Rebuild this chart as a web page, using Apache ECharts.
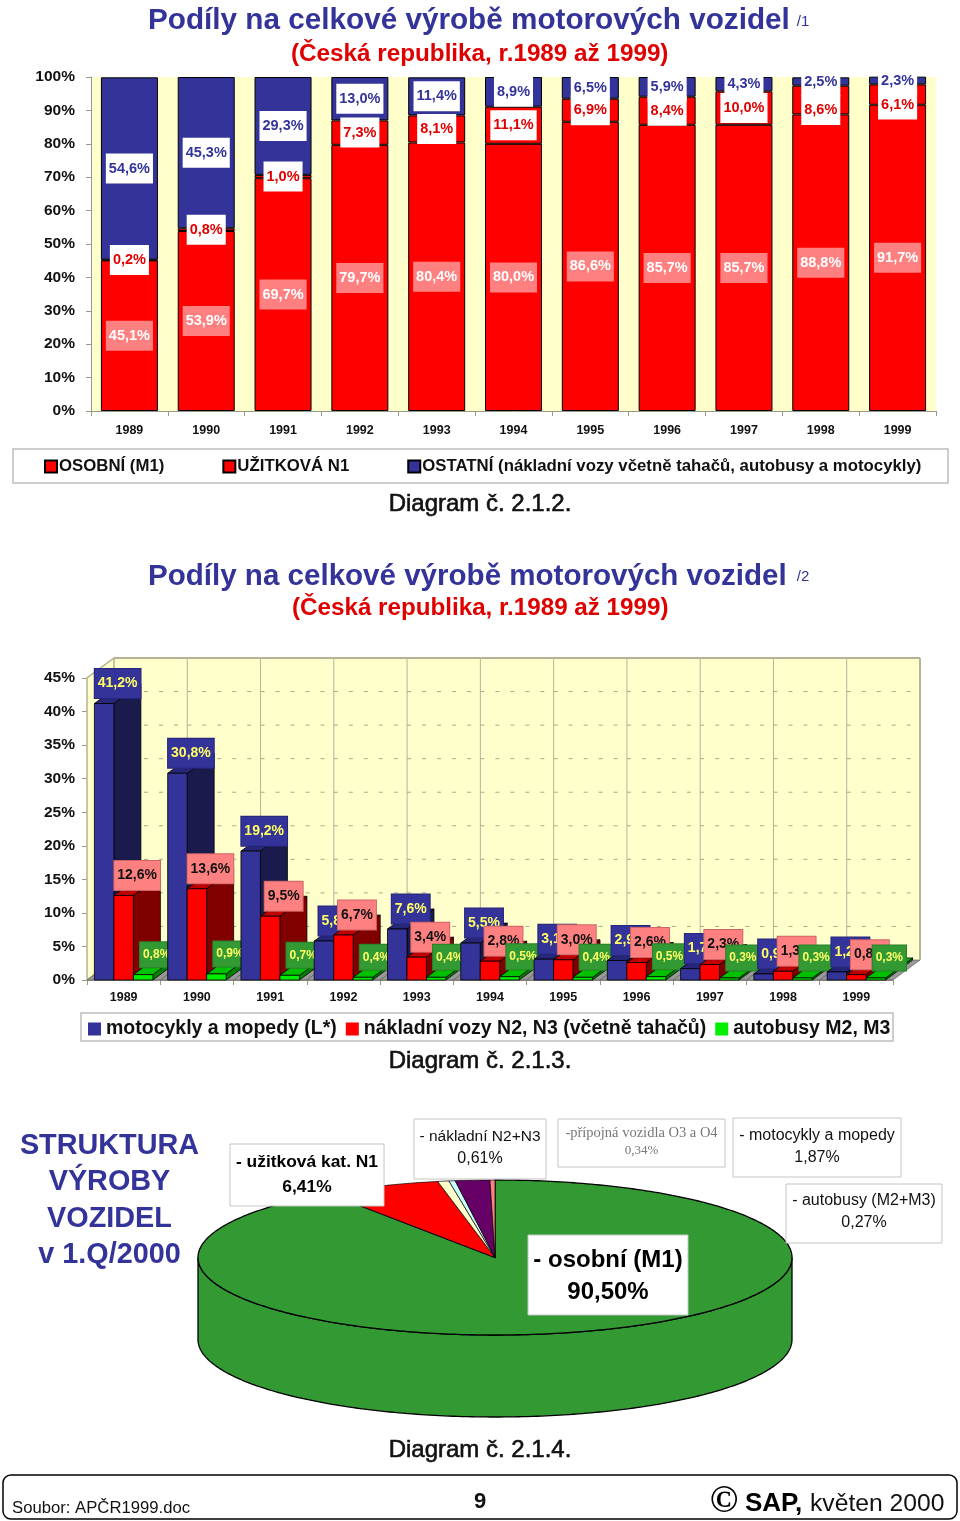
<!DOCTYPE html>
<html lang="cs"><head><meta charset="utf-8"><title>Podíly na celkové výrobě motorových vozidel</title>
<style>html,body{margin:0;padding:0;background:#fff}#c{width:960px;height:1521px}</style>
<script src="https://cdn.jsdelivr.net/npm/echarts@6/dist/echarts.min.js"></script></head>
<body><div id="c"></div><script>
const years = ['1989','1990','1991','1992','1993','1994','1995','1996','1997','1998','1999'];
const osobni = [45.1,53.9,69.7,79.7,80.4,80.0,86.6,85.7,85.7,88.8,91.7];
const uzitkova = [0.2,0.8,1.0,7.3,8.1,11.1,6.9,8.4,10.0,8.6,6.1];
const ostatni = [54.6,45.3,29.3,13.0,11.4,8.9,6.5,5.9,4.3,2.5,2.3];
const motocykly = [41.2,30.8,19.2,5.8,7.6,5.5,3.1,2.9,1.7,0.9,1.2];
const nakladni = [12.6,13.6,9.5,6.7,3.4,2.8,3.0,2.6,2.3,1.3,0.8];
const autobusy = [0.8,0.9,0.7,0.4,0.4,0.5,0.4,0.5,0.3,0.3,0.3];
const pieNames = ['- osobní (M1)','- užitková kat. N1','- nákladní N2+N3','-přípojná vozidla O3 a O4','- motocykly a mopedy','- autobusy (M2+M3)'];
const pieValues = [90.50,6.41,0.61,0.34,1.87,0.27];

const F = '"Liberation Sans", Arial, sans-serif';
const NAVY = '#333399', RED = '#FF0000', YEL = '#FFFFCC';
const pct = (v,d) => v.toFixed(d).replace('.',',') + '%';

/* ---------- chart 1 stacked bars ---------- */
function stackSeries(name, values, color, lbl, shifted){
  return {
    type:'bar', name, stack:'a', xAxisIndex:0, yAxisIndex:0, barWidth:57,
    itemStyle:{color, borderColor:'#000', borderWidth:1},
    data: values.map((v,i)=>{
      const d = {value:v};
      if (shifted && shifted.includes(i)) d.label = {offset:[0,10]};
      return d;
    }),
    label:{show:true, position:'inside', formatter:p=>pct(p.value,1),
      fontFamily:F, fontSize:14.5, fontWeight:'bold', padding:[8,3,7,3], ...lbl}
  };
}

/* ---------- chart 2 pseudo-3D columns ---------- */
const DX = 27, DY = 20;
function bar3d(name, values, k, c){
  return {
    type:'custom', name, xAxisIndex:1, yAxisIndex:1, clip:false,
    itemStyle:{color:c.front, borderColor:NAVY},
    encode:{x:0,y:1},
    data: values.map((v,i)=>[i,v]),
    renderItem(params, api){
      const i = api.value(0), v = api.value(1);
      const top = api.coord([i,v]), base = api.coord([i,0]);
      const band = api.size([1,0])[0], w = band*0.266;
      const x0 = top[0] - 1.5*w + k*w, x1 = x0 + w, yT = top[1], yB = base[1];
      const z = 10 + i*10 + k*3;
      const line = {stroke:'#000', lineWidth:0.8};
      return {type:'group', children:[
        {type:'polygon', z2:z, shape:{points:[[x1,yB],[x1+DX,yB-DY],[x1+DX,yT-DY],[x1,yT]]}, style:{fill:c.side, ...line}},
        {type:'polygon', z2:z, shape:{points:[[x0,yT],[x1,yT],[x1+DX,yT-DY],[x0+DX,yT-DY]]}, style:{fill:c.top, ...line}},
        {type:'rect', z2:z, shape:{x:x0,y:yT,width:w,height:yB-yT}, style:{fill:c.front, ...line}},
        {type:'text', z2:z+1, style:{text:pct(v,1), x:(x0+x1)/2+DX/2, y:yT-DY, align:'center', verticalAlign:'middle',
          font:`bold ${c.fs}px ${F}`, fill:c.fg, backgroundColor:c.bg, borderColor:c.bd, borderWidth:1, padding:c.pad}}
      ]};
    }
  };
}
const backdrop = {
  type:'custom', name:'stěny', xAxisIndex:1, yAxisIndex:1, clip:false, silent:true,
  encode:{x:0,y:1}, data: years.map((y,i)=>[i,0]),
  renderItem(params, api){
    const i = api.value(0);
    const o = api.coord([i,0]), t = api.coord([i,45]), band = api.size([1,0])[0];
    const x0 = o[0]-band/2, x1 = o[0]+band/2, b = o[1], h = t[1];
    const kids = [
      {type:'rect', z2:-9, shape:{x:x0+DX,y:h-DY,width:band,height:b-h}, style:{fill:YEL}},
      {type:'polygon', z2:-7, shape:{points:[[x0,b],[x1,b],[x1+DX,b-DY],[x0+DX,b-DY]]}, style:{fill:'#999999', stroke:'#555', lineWidth:0.6}},
      {type:'line', z2:-6, shape:{x1:x0+DX,y1:h-DY,x2:x1+DX,y2:h-DY}, style:{stroke:'#B5B394', lineWidth:2}},
    ];
    if (i>0) kids.push({type:'line', z2:-8, shape:{x1:x0+DX,y1:b-DY,x2:x0+DX,y2:h-DY}, style:{stroke:'#B5B394', lineWidth:1}});
    if (i===0) kids.push(
      {type:'polygon', z2:-8, shape:{points:[[x0,b],[x0+DX,b-DY],[x0+DX,h-DY],[x0,h]]}, style:{fill:YEL, stroke:'#B5B394', lineWidth:1.5}});
    if (i===years.length-1) kids.push({type:'line', z2:-6, shape:{x1:x1+DX,y1:b-DY,x2:x1+DX,y2:h-DY}, style:{stroke:'#B5B394', lineWidth:2}});
    for (let t5=5; t5<=40; t5+=5){
      const y = api.coord([i,t5])[1]-DY;
      kids.push({type:'line', z2:-8, shape:{x1:x0+DX,y1:y,x2:x1+DX,y2:y}, style:{stroke:'#A8A888', lineWidth:1, lineDash:[4,11]}});
    }
    return {type:'group', children:kids};
  }
};

/* ---------- elliptical 3D pie ---------- */
const pieColors = ['#339933','#FF0000','#FFFFCC','#CCFFFF','#660066','#FF8080'];
const SIDE = 2*82/155;
const piePoint = f => [Math.sin(2*Math.PI*f), Math.cos(2*Math.PI*f)];
const pieSeries = {
  type:'custom', name:'struktura', xAxisIndex:2, yAxisIndex:2, clip:false, silent:true,
  data: pieValues.map((v,i)=>[i,v]),
  renderItem(params, api){
    const i = api.value(0), v = api.value(1);
    const total = pieValues.reduce((a,b)=>a+b,0);
    const start = pieValues.slice(0,i).reduce((a,b)=>a+b,0)/total, end = start + v/total;
    const kids = [];
    const a = Math.max(start,0.25), b = Math.min(end,0.75);
    if (b>a){
      const up=[], low=[];
      for (let s=0;s<=200;s++){
        const p = piePoint(a+(b-a)*s/200);
        up.push(api.coord(p)); low.unshift(api.coord([p[0],p[1]-SIDE]));
      }
      kids.push({type:'polygon', z2:1, shape:{points:up.concat(low)}, style:{fill:pieColors[i], stroke:'#000', lineWidth:1.3}});
    }
    const pts = [api.coord([0,0])];
    const n = Math.max(4, Math.ceil((end-start)*400));
    for (let s=0;s<=n;s++) pts.push(api.coord(piePoint(start+(end-start)*s/n)));
    kids.push({type:'polygon', z2:2+i, shape:{points:pts}, style:{fill:pieColors[i], stroke:'#000', lineWidth:i===0?1.3:0.7}});
    return {type:'group', children:kids};
  }
};

/* ---------- text furniture ---------- */
const pieBoxes = [
  {i:0,x:528,y:1235,w:160,h:80,font:`bold 24px ${F}`,font2:`bold 24px ${F}`,fill:'#000',l1:1260,l2:1292},
  {i:1,x:230,y:1144,w:154,h:62,font:`bold 17.4px ${F}`,font2:`bold 17.4px ${F}`,fill:'#000',l1:1162,l2:1187},
  {i:2,x:414,y:1119,w:132,h:60,font:`15.5px ${F}`,font2:`16px ${F}`,fill:'#111',l1:1137,l2:1159},
  {i:3,x:558,y:1119,w:167,h:48,font:`14.5px "Liberation Serif", serif`,font2:`13px "Liberation Serif", serif`,fill:'#777',l1:1133,l2:1151},
  {i:4,x:733,y:1118,w:168,h:59,font:`16px ${F}`,font2:`16px ${F}`,fill:'#111',l1:1136,l2:1158},
  {i:5,x:786,y:1184,w:156,h:59,font:`16px ${F}`,font2:`16px ${F}`,fill:'#111',l1:1201,l2:1223},
];
const graphicEls = [];
const frame = (x,y,w,h,stroke,lw,r) => graphicEls.push({type:'rect',z:0,shape:{x,y,width:w,height:h,r:r||0},style:{fill:'#fff',stroke,lineWidth:lw}});
const txt = (text,x,y,font,fill,align,extra) => graphicEls.push({type:'text',z:100,x,y,style:{text,font,fill,align:align||'center',verticalAlign:'middle',...(extra||{})}});
frame(13,449,935,34,'#BDBDBD',1.5);
frame(81,1013,812,28,'#BDBDBD',1.5);
frame(3,1475,954,44,'#000',1.5,8);
pieBoxes.forEach(b=>{
  graphicEls.push({type:'rect',z:100,shape:{x:b.x,y:b.y,width:b.w,height:b.h},style:{fill:'#fff',stroke:'#C4C4C4',lineWidth:1}});
  txt(pieNames[b.i],b.x+b.w/2,b.l1,b.font,b.fill);
  txt(pct(pieValues[b.i],2),b.x+b.w/2,b.l2,b.font2,b.fill);
});
['Diagram č. 2.1.2.|504','Diagram č. 2.1.3.|1061','Diagram č. 2.1.4.|1450'].forEach(s=>{
  const [t,y]=s.split('|'); txt(t,480,+y,`24px ${F}`,'#111','center',{stroke:'#111',lineWidth:0.6});
});
['STRUKTURA|1146','VÝROBY|1182','VOZIDEL|1219','v 1.Q/2000|1255'].forEach(s=>{
  const [t,y]=s.split('|'); txt(t,109.5,+y,`bold 28.8px ${F}`,NAVY);
});
txt('/1',803,22,`15px ${F}`,NAVY);
txt('/2',803,577,`15px ${F}`,NAVY);
txt('Soubor: APČR1999.doc',12,1508,`16.7px ${F}`,'#111','left');
txt('9',480,1502,`bold 22px ${F}`,'#111');
txt('©',724,1502,`bold 38px "Liberation Serif", serif`,'#000');
txt('SAP,',745,1504,`bold 26px ${F}`,'#000','left');
txt('květen 2000',810,1504,`24.7px ${F}`,'#111','left');

const axisText = {fontFamily:F, fontSize:15.5, fontWeight:'bold', color:'#111'};
const yearText = {fontFamily:F, fontSize:12.5, fontWeight:'bold', color:'#111'};
const axisLine = {show:true, lineStyle:{color:'#999988', width:1}};
const tick = {show:true, length:5, lineStyle:{color:'#999988'}};

const option = {
  animation:false, backgroundColor:'#fff',
  title:[
    {text:'Podíly na celkové výrobě motorových vozidel',left:148,top:6,padding:0,textStyle:{fontFamily:F,fontSize:29.7,fontWeight:'bold',color:NAVY}},
    {text:'(Česká republika, r.1989 až 1999)',left:291,top:42,padding:0,textStyle:{fontFamily:F,fontSize:24.25,fontWeight:'bold',color:'#E00000'}},
    {text:'Podíly na celkové výrobě motorových vozidel',left:148,top:562,padding:0,textStyle:{fontFamily:F,fontSize:29.55,fontWeight:'bold',color:NAVY}},
    {text:'(Česká republika, r.1989 až 1999)',left:292,top:596,padding:0,textStyle:{fontFamily:F,fontSize:24.2,fontWeight:'bold',color:'#E00000'}},
  ],
  legend:[
    {left:44,top:458,padding:0,itemGap:58,itemWidth:12,itemHeight:12,icon:'rect',selectedMode:false,
     data:['OSOBNÍ (M1)','UŽITKOVÁ N1','OSTATNÍ (nákladní vozy včetně tahačů, autobusy a motocykly)'],
     textStyle:{fontFamily:F,fontSize:16.8,fontWeight:'bold',color:'#111',padding:[0,0,0,-3]}},
    {left:88,top:1019,padding:0,itemGap:9,itemWidth:13,itemHeight:13,icon:'rect',selectedMode:false,
     data:['motocykly a mopedy (L*)','nákladní vozy N2, N3 (včetně tahačů)','autobusy M2, M3'],
     textStyle:{fontFamily:F,fontSize:19.5,fontWeight:'bold',color:'#111'}},
  ],
  grid:[
    {left:91,top:77,width:845,height:334,show:true,backgroundColor:YEL,borderWidth:0},
    {left:87,top:678,width:806,height:302},
    {left:198,top:1180,width:594,height:155},
  ],
  xAxis:[
    {type:'category',gridIndex:0,data:years,axisLine,axisTick:tick,axisLabel:{...yearText,margin:13}},
    {type:'category',gridIndex:1,data:years,axisLine,axisTick:tick,axisLabel:{...yearText,margin:11}},
    {type:'value',gridIndex:2,min:-1,max:1,show:false},
  ],
  yAxis:[
    {type:'value',gridIndex:0,min:0,max:100,interval:10,splitLine:{show:false},axisLine,axisTick:tick,
     axisLabel:{...axisText,margin:16,padding:[5,0,0,0],formatter:'{value}%'}},
    {type:'value',gridIndex:1,min:0,max:45,interval:5,splitLine:{show:false},axisLine,axisTick:tick,
     axisLabel:{...axisText,margin:12,padding:[4,0,0,0],formatter:'{value}%'}},
    {type:'value',gridIndex:2,min:-1,max:1,show:false},
  ],
  graphic:{elements:graphicEls},
  series:[
    stackSeries('OSOBNÍ (M1)',osobni,RED,{color:'#fff',backgroundColor:'#FF8080'}),
    stackSeries('UŽITKOVÁ N1',uzitkova,RED,{color:'#E00000',backgroundColor:'#fff'},[9,10]),
    stackSeries('OSTATNÍ (nákladní vozy včetně tahačů, autobusy a motocykly)',ostatni,NAVY,{color:NAVY,backgroundColor:'#fff'}),
    backdrop,
    bar3d('motocykly a mopedy (L*)',motocykly,0,{front:NAVY,side:'#1A1A4D',top:'#26267A',fg:'#FFFF66',bg:NAVY,bd:'#26267A',fs:14,pad:[8,3,7,3]}),
    bar3d('nákladní vozy N2, N3 (včetně tahačů)',nakladni,1,{front:RED,side:'#800000',top:'#C00000',fg:'#111',bg:'#FF8080',bd:'#CC6666',fs:14,pad:[8,3,7,3]}),
    bar3d('autobusy M2, M3',autobusy,2,{front:'#00EE00',side:'#008000',top:'#00C000',fg:'#FFFF66',bg:'#339933',bd:'#2B802B',fs:12,pad:[7,3,6,3]}),
    pieSeries,
  ]
};
const chart = echarts.init(document.getElementById('c'),null,{renderer:'canvas'});
chart.setOption(option);
</script></body></html>
